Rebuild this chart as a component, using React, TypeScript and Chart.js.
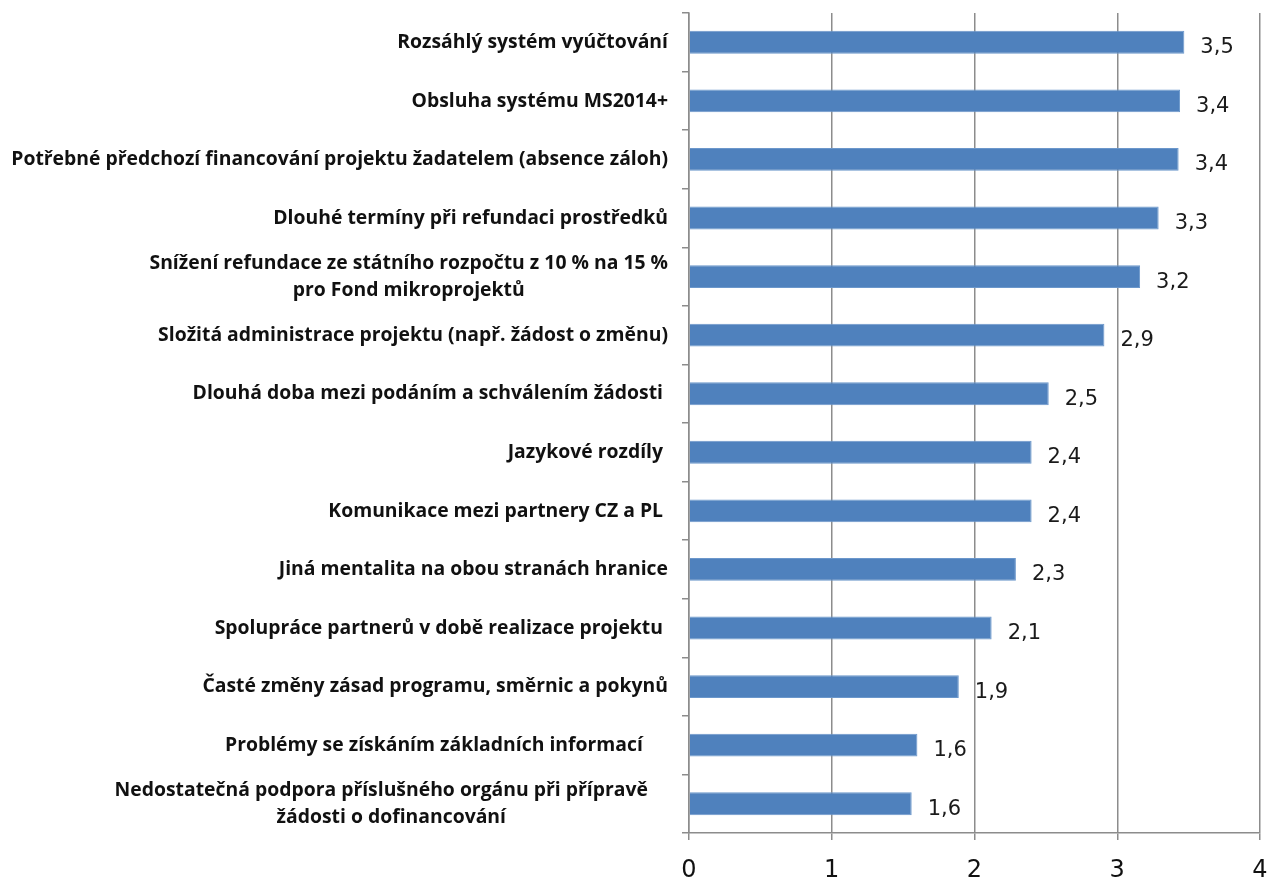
import React, { useEffect, useRef } from "react";
import { Chart, registerables } from "chart.js";

Chart.register(...registerables);

const categories: string[][] = [
  ["Rozsáhlý systém vyúčtování"],
  ["Obsluha systému MS2014+"],
  ["Potřebné předchozí financování projektu žadatelem (absence záloh)"],
  ["Dlouhé termíny při refundaci prostředků"],
  ["Snížení refundace ze státního rozpočtu z 10 % na 15 %", "pro Fond mikroprojektů"],
  ["Složitá administrace projektu (např. žádost o změnu)"],
  ["Dlouhá doba mezi podáním a schválením žádosti "],
  ["Jazykové rozdíly "],
  ["Komunikace mezi partnery CZ a PL "],
  ["Jiná mentalita na obou stranách hranice"],
  ["Spolupráce partnerů v době realizace projektu "],
  ["Časté změny zásad programu, směrnic a pokynů"],
  ["Problémy se získáním základních informací     "],
  ["Nedostatečná podpora příslušného orgánu při přípravě    ", "žádosti o dofinancování"],
];

const values: number[] = [3.47, 3.44, 3.43, 3.29, 3.16, 2.91, 2.52, 2.4, 2.4, 2.29, 2.12, 1.89, 1.6, 1.56];

const xTicks: number[] = [0, 1, 2, 3, 4];

const CAT_FONT = "bold 20px 'Open Sans', 'Noto Sans', sans-serif";
const CAT_SCALE = 0.968;
const VAL_FONT = "21px 'DejaVu Sans', sans-serif";
const GRID = "#8c8c8c";

const catLabelPlugin = {
  id: "catLabels",
  afterDraw(chart: any) {
    const ctx = chart.ctx;
    const ys = chart.scales.y;
    ctx.save();
    ctx.font = CAT_FONT;
    ctx.fillStyle = "#111111";
    ctx.textBaseline = "middle";
    ctx.textAlign = "center";
    const right = ys.right - 21;
    const lh = 27;
    categories.forEach((lines, i) => {
      const cy = ys.getPixelForTick(i);
      const w = Math.max(...lines.map((l) => ctx.measureText(l).width)) * CAT_SCALE;
      const cx = right - w / 2;
      lines.forEach((l, j) => {
        ctx.save();
        ctx.translate(cx, cy + (j - (lines.length - 1) / 2) * lh);
        ctx.scale(CAT_SCALE, 1);
        ctx.fillText(l, 0, 0);
        ctx.restore();
      });
    });
    ctx.restore();
  },
};

const valueLabelPlugin = {
  id: "valueLabels",
  afterDatasetsDraw(chart: any) {
    const ctx = chart.ctx;
    const meta = chart.getDatasetMeta(0);
    ctx.save();
    ctx.font = VAL_FONT;
    ctx.fillStyle = "#1a1a1a";
    ctx.textAlign = "left";
    ctx.textBaseline = "alphabetic";
    meta.data.forEach((bar: any, i: number) => {
      const txt = values[i].toFixed(1).replace(".", ",");
      ctx.fillText(txt, bar.x + 16, bar.y + 11);
    });
    ctx.restore();
  },
};

export default function App() {
  const ref = useRef<HTMLCanvasElement>(null);
  useEffect(() => {
    if (!ref.current) return;
    const chart = new Chart(ref.current, {
      type: "bar",
      data: {
        labels: categories.map((l) => l.join(" ")),
        datasets: [
          {
            data: values,
            backgroundColor: "#4f81bd",
            borderColor: "#6b97cb",
            borderWidth: 1,
            barPercentage: 0.39,
            categoryPercentage: 1,
          },
        ],
      },
      options: {
        indexAxis: "y",
        responsive: false,
        animation: false,
        layout: { padding: { top: 13, right: 9, left: 0, bottom: 0 } },
        plugins: {
          legend: { display: false },
          tooltip: { enabled: false },
          title: { display: false },
        },
        scales: {
          x: {
            type: "linear",
            min: 0,
            max: 4,
            afterBuildTicks: (scale: any) => {
              scale.ticks = xTicks.map((v) => ({ value: v }));
            },
            afterFit: (scale: any) => {
              scale.height = 46;
              scale.paddingLeft = 0;
              scale.paddingRight = 0;
            },
            grid: {
              color: GRID,
              lineWidth: 1.5,
              drawTicks: true,
              tickLength: 7,
            },
            border: { color: GRID, width: 1.5 },
            ticks: {
              color: "#111111",
              padding: 16,
              font: { family: "'DejaVu Sans', sans-serif", size: 24 },
            },
          },
          y: {
            type: "category",
            afterFit: (scale: any) => {
              scale.width = 689;
              scale.paddingTop = 0;
              scale.paddingBottom = 0;
            },
            grid: {
              offset: true,
              drawOnChartArea: false,
              color: GRID,
              lineWidth: 1.5,
              drawTicks: true,
              tickLength: 7,
            },
            border: { color: GRID, width: 1.5 },
            ticks: { display: false },
          },
        },
      },
      plugins: [catLabelPlugin, valueLabelPlugin],
    } as any);
    return () => chart.destroy();
  }, []);
  return (
    <div style={{ position: "absolute", left: 0, top: 0, width: 1269, height: 879, background: "#fff" }}>
      <canvas ref={ref} width={1269} height={879} style={{ display: "block" }} />
    </div>
  );
}
